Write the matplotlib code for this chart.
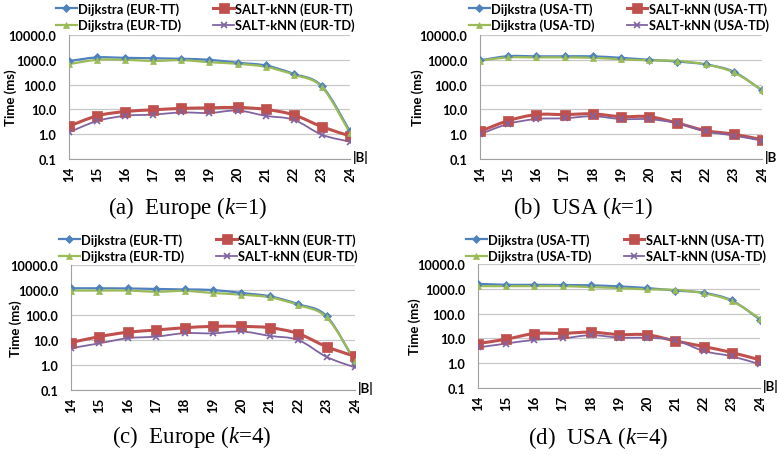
import matplotlib
matplotlib.use("Agg")
import matplotlib.pyplot as plt
import numpy as np
from matplotlib.path import Path
from matplotlib.patches import PathPatch
from matplotlib.lines import Line2D
from matplotlib.ticker import FixedLocator, FuncFormatter, NullLocator

plt.rcParams["font.family"] = ["Lato", "DejaVu Sans"]
plt.rcParams["mathtext.fontset"] = "custom"
plt.rcParams["mathtext.it"] = "Liberation Serif:italic"
plt.rcParams["mathtext.rm"] = "Liberation Serif"

# |B| = 2^14 .. 2^24
sizes = [14, 15, 16, 17, 18, 19, 20, 21, 22, 23, 24]
size_labels = [str(s) for s in sizes]
ytick_vals = [0.1, 1, 10, 100, 1000, 10000]

eur_k1_dijk_tt = [890, 1250, 1200, 1150, 1100, 1000, 760, 590, 270, 87, 1.3]
eur_k1_dijk_td = [670, 1000, 1000, 900, 970, 800, 690, 520, 250, 80, 1.1]
eur_k1_salt_tt = [2.1, 5.5, 8.2, 9.6, 11, 11.5, 12, 10, 6, 2.0, 0.85]
eur_k1_salt_td = [1.2, 3.4, 5.5, 6.2, 7.5, 7.2, 9, 5.5, 3.8, 0.95, 0.5]

usa_k1_dijk_tt = [950, 1400, 1380, 1380, 1380, 1200, 1000, 850, 650, 330, 58]
usa_k1_dijk_td = [920, 1250, 1250, 1250, 1200, 1050, 950, 900, 650, 310, 60]
usa_k1_salt_tt = [1.3, 3.5, 6.2, 6.2, 6.6, 5.1, 5.1, 2.8, 1.4, 1.0, 0.6]
usa_k1_salt_td = [1.0, 2.6, 4.1, 4.4, 5.3, 4.1, 4.0, 2.8, 1.3, 0.88, 0.55]

eur_k4_dijk_tt = [1170, 1170, 1150, 1100, 1050, 1000, 760, 560, 270, 90, 1.3]
eur_k4_dijk_td = [950, 950, 950, 850, 920, 760, 650, 510, 250, 80, 1.5]
eur_k4_salt_tt = [7.9, 13.7, 20.5, 25, 31, 35, 35, 31, 18, 5.4, 2.2]
eur_k4_salt_td = [4.7, 7.4, 11.8, 13.7, 18.7, 18.5, 22, 14.6, 10, 2.1, 0.8]

usa_k4_dijk_tt = [1590, 1450, 1450, 1420, 1380, 1250, 1070, 850, 690, 340, 57]
usa_k4_dijk_td = [1280, 1280, 1280, 1280, 1170, 1070, 950, 900, 660, 320, 62]
usa_k4_salt_tt = [6.2, 9.3, 15.7, 16, 17.8, 14.3, 14, 7.9, 4.7, 2.7, 1.35]
usa_k4_salt_td = [4.3, 6.2, 8.7, 10, 13.5, 10.8, 10.5, 8.5, 3.1, 1.9, 0.9]

# series styles: (label template, color, linewidth, marker, markersize)
styles = [
    ("Dijkstra ({}-TT)", "#4F81BD", 1.6, "D", 4.0),
    ("SALT-kNN ({}-TT)", "#C0504D", 2.2, "s", 6.5),
    ("Dijkstra ({}-TD)", "#9BBB59", 1.6, "^", 5.0),
    ("SALT-kNN ({}-TD)", "#8064A2", 1.3, "x", 4.0),
]

W, H = 777, 456

# panel: axes px box (left, top, right, bottom), legend px (left, top),
# ylabel centre x px, caption px (cx, cy), region, caption, series
panels = [
    ((69, 36, 350, 160), (56, 3), 17, (188, 208), "EUR", "(a)  Europe ($k$=1)",
     [eur_k1_dijk_tt, eur_k1_salt_tt, eur_k1_dijk_td, eur_k1_salt_td]),
    ((480, 36, 762, 160), (469, 3), 424, (583, 208), "USA", "(b)  USA ($k$=1)",
     [usa_k1_dijk_tt, usa_k1_salt_tt, usa_k1_dijk_td, usa_k1_salt_td]),
    ((71, 266, 355, 391), (59, 234), 22, (192, 437), "EUR", "(c)  Europe ($k$=4)",
     [eur_k4_dijk_tt, eur_k4_salt_tt, eur_k4_dijk_td, eur_k4_salt_td]),
    ((478, 265, 760, 389), (466, 234), 421, (598, 438), "USA", "(d)  USA ($k$=4)",
     [usa_k4_dijk_tt, usa_k4_salt_tt, usa_k4_dijk_td, usa_k4_salt_td]),
]


def smooth_path(xs, ys):
    # Excel-like smoothed line: cubic Bezier through points in (x, log y)
    pts = np.column_stack([np.asarray(xs, float), np.log10(ys)])
    n = len(pts)
    verts = [pts[0]]
    codes = [Path.MOVETO]
    for i in range(n - 1):
        p0 = pts[i - 1] if i > 0 else pts[i]
        p3 = pts[i + 2] if i + 2 < n else pts[i + 1]
        c1 = pts[i] + (pts[i + 1] - p0) / 6.0
        c2 = pts[i + 1] - (p3 - pts[i]) / 6.0
        verts += [c1, c2, pts[i + 1]]
        codes += [Path.CURVE4] * 3
    verts = np.array(verts)
    verts[:, 1] = 10 ** verts[:, 1]
    return Path(verts, codes)


fig = plt.figure(figsize=(W / 100, H / 100), dpi=100)

for box, leg_pos, ylab_x, cap_pos, region, caption, series in panels:
    l, t, r, b = box
    ax = fig.add_axes([l / W, 1 - b / H, (r - l) / W, (b - t) / H])
    ax.set_yscale("log")
    ax.set_ylim(0.1, 10000)
    ax.set_xlim(sizes[0], sizes[-1])

    handles = []
    for (lab, col, lw, mk, ms), vals in zip(styles, series):
        ax.add_patch(PathPatch(smooth_path(sizes, vals), fill=False,
                               edgecolor=col, lw=lw, capstyle="round",
                               joinstyle="round", zorder=3))
        mew = 1.2 if mk == "x" else 0.5
        ax.plot(sizes, vals, linestyle="none", marker=mk, ms=ms, color=col,
                mec=col, mew=mew, zorder=4)
        handles.append(Line2D([], [], color=col, lw=lw, marker=mk, ms=ms,
                              mec=col, mew=mew, label=lab.format(region)))
    # legend fills by column, so interleave to get TT on the first row
    handles = [handles[0], handles[2], handles[1], handles[3]]

    ax.yaxis.set_major_locator(FixedLocator(ytick_vals))
    ax.yaxis.set_minor_locator(NullLocator())
    ax.yaxis.set_major_formatter(FuncFormatter(lambda v, p: "%.1f" % v))
    ax.set_xticks(sizes)
    ax.set_xticklabels(size_labels, rotation=90, fontweight="bold")
    for lbl in ax.get_yticklabels():
        lbl.set_fontweight("bold")
    ax.tick_params(axis="y", length=0, pad=9, labelsize=9.2, colors="#000000")
    ax.tick_params(axis="x", length=0, pad=5, labelsize=9.5)
    ax.grid(axis="y", color="#C8C8C8", lw=0.9)
    ax.set_axisbelow(True)
    for side in ("top", "right"):
        ax.spines[side].set_visible(False)
    ax.spines["left"].set_color("#A0A0A0")
    ax.spines["bottom"].set_color("#A0A0A0")
    ax.set_ylabel("Time (ms)", fontsize=9.5, fontweight="bold")
    ax.yaxis.set_label_coords((ylab_x - l) / (r - l), 0.5)

    ax.annotate("|B|", xy=(1, 0), xycoords="axes fraction", xytext=(2, 2),
                textcoords="offset points", ha="left", va="center",
                fontsize=9.5, fontweight="bold", annotation_clip=False)

    ax.legend(handles=handles, ncol=2, loc="upper left",
              bbox_to_anchor=(leg_pos[0] / W, 1 - leg_pos[1] / H),
              bbox_transform=fig.transFigure, frameon=False,
              prop={"weight": "bold", "size": 9.3}, handlelength=1.6,
              handletextpad=0.1, columnspacing=2.5, labelspacing=0.3,
              borderpad=0, borderaxespad=0)

    fig.text(cap_pos[0] / W, 1 - cap_pos[1] / H, caption, ha="center",
             va="center", fontsize=16.5, family="Liberation Serif")

fig.savefig("out.png", dpi=100)
